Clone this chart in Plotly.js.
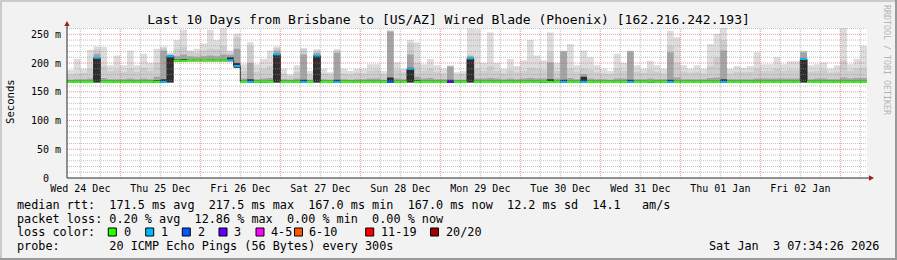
<!DOCTYPE html>
<html><head><meta charset="utf-8">
<script src="https://cdn.plot.ly/plotly-3.0.1.min.js"></script>
<style>html,body{margin:0;padding:0;background:#f2f2f2;}#chart{width:897px;height:260px;}</style>
</head><body><div id="chart"></div>
<script>
// ---- data (2-hour bins starting Wed 24 Dec 08:00) ----
const startTime = '2025-12-24T08:00:00Z';
const binHours = 2;
const med = [
 167,167,167,167,209,167,167,167,
 167,167,167,167,167,167,167,212,204,204,205,205,
 205,205,205,205,205,195,167,167,167,168,167,215,
 167,167,167,167,167,213,167,167,167,167,167,167,
 167,167,167,167,167,167,167,190,167,167,167,167,
 167,167,167,167,208,167,167,167,167,167,167,167,
 167,167,167,168,167,167,167,167,167,167,167,167,
 167,167,167,167,167,167,167,168,167,167,167,167,
 167,167,167,167,167,167,167,167,167,167,167,167,
 167,167,167,167,167,167,207,167,167,167,167,167,
 167,167,167,167];
const loss = [
 0,0,0,0,1,0,0,0,
 0,0,0,0,0,0,1,1,0,0,0,0,
 0,0,0,0,1,1,0,1,0,0,0,1,
 0,0,0,1,0,1,0,0,1,0,0,0,
 0,0,0,0,2,0,0,1,0,0,0,0,
 0,3,0,0,1,0,0,0,0,0,0,0,
 0,0,0,0,0,0,1,0,0,1,0,0,
 0,0,0,0,1,0,0,0,0,0,1,0,
 0,0,0,0,0,0,1,0,0,0,0,0,
 0,0,0,0,0,0,1,0,0,0,0,0,
 0,0,0,0];
const smokeMin = [
 166,166,166,166,166,166,166,166,
 166,166,166,166,166,166,166,166,203,203,203,203,
 203,203,203,203,203,192,166,166,166,166,166,166,
 166,166,166,166,166,166,166,166,166,166,166,166,
 166,166,166,166,166,166,166,166,166,166,166,166,
 166,166,166,166,166,166,166,166,166,166,166,166,
 166,166,166,166,166,166,166,166,166,166,166,166,
 166,166,166,166,166,166,166,166,166,166,166,166,
 166,166,166,166,166,166,166,166,166,166,166,166,
 166,166,166,166,166,166,166,166,166,166,166,166,
 166,166,166,166];
const smokeInner = [
 169,169,169,169,209,169,169,169,
 169,169,169,169,169,170,172,212,206,207,206,206,
 206,207,206,207,210,200,169,172,169,169,169,215,
 169,169,169,171,169,213,169,169,171,169,169,169,
 169,169,169,169,175,169,169,192,170,169,169,169,
 169,171,169,169,208,169,169,169,169,169,169,169,
 169,169,169,169,172,169,171,169,169,176,169,169,
 169,169,169,169,171,169,169,169,169,169,171,169,
 169,169,169,169,169,169,172,169,169,169,169,169,
 169,169,169,169,169,169,207,169,169,169,169,169,
 169,169,169,169];
const smokeMid = [
 171,172,172,173,216,174,172,172,
 172,173,172,173,172,176,222,214,212,215,212,211,
 212,213,212,215,214,225,173,200,172,173,174,222,
 172,171,173,215,171,218,172,171,218,172,171,172,
 172,173,173,171,255,173,172,215,176,173,174,172,
 172,194,171,171,212,173,173,174,173,172,173,172,
 173,174,173,173,201,173,220,174,172,181,173,172,
 172,171,173,173,220,172,172,173,172,172,219,175,
 172,172,172,172,174,175,222,172,172,172,172,173,
 173,173,173,173,173,173,219,172,173,173,172,172,
 175,173,174,174];
const smokeOuter = [
 180,182,183,190,224,195,186,188,
 184,190,185,192,186,200,226,216,225,228,220,218,
 222,225,224,230,218,245,186,230,185,190,195,226,
 182,178,185,224,180,222,182,180,222,182,180,183,
 182,186,188,181,256,188,184,235,200,186,190,185,
 182,195,180,181,215,190,186,195,186,182,188,184,
 186,192,190,188,220,186,221,190,185,190,188,184,
 182,181,190,186,221,185,183,188,185,182,230,200,
 185,183,185,182,195,210,240,182,185,184,185,190,
 186,186,190,186,188,188,220,185,186,188,183,185,
 205,186,190,192];
const smokeMax = [
 188,207,190,223,229,228,196,213,
 196,222,196,216,200,225,229,218,240,258,222,225,
 234,258,240,261,222,251,198,236,198,207,222,229,
 190,180,196,226,186,224,190,184,224,190,186,190,
 190,198,198,186,257,201,190,240,236,198,207,196,
 190,196,184,186,260,259,200,253,200,190,207,195,
 205,240,213,205,253,200,222,233,196,222,210,196,
 190,186,216,200,222,196,190,204,196,190,256,245,
 196,190,196,190,233,251,262,190,195,192,195,219,
 198,198,210,198,203,203,222,196,198,201,190,196,
 262,198,207,230];
const dayLabels = ['Wed 24 Dec','Thu 25 Dec','Fri 26 Dec','Sat 27 Dec','Sun 28 Dec',
  'Mon 29 Dec','Tue 30 Dec','Wed 31 Dec','Thu 01 Jan','Fri 02 Jan'];
const dayNoons = ['2025-12-24 12:00','2025-12-25 12:00','2025-12-26 12:00','2025-12-27 12:00',
  '2025-12-28 12:00','2025-12-29 12:00','2025-12-30 12:00','2025-12-31 12:00',
  '2026-01-01 12:00','2026-01-02 12:00'];
const yTickVals = [0,50,100,150,200,250];
const yTickText = ['0  ','50 m','100 m','150 m','200 m','250 m'];
const lossLabels = ['0','1','2','3','4-5','6-10','11-19','20/20'];
const lossColors = ['#26ff00','#00b8ff','#0059ff','#5e00ff','#ff00ff','#ff5500','#ff0000','#a10000'];
const statsLine = 'median rtt:  171.5 ms avg  217.5 ms max  167.0 ms min  167.0 ms now  12.2 ms sd  14.1   am/s';
const lossLine = 'packet loss: 0.20 % avg  12.86 % max  0.00 % min  0.00 % now';
const probeLine = 'probe:       20 ICMP Echo Pings (56 Bytes) every 300s';
const stampText = 'Sat Jan  3 07:34:26 2026';
const titleText = 'Last 10 Days from Brisbane to [US/AZ] Wired Blade (Phoenix) [162.216.242.193]';

// ---- helpers ----
const H = 3600e3;
const t0 = Date.parse(startTime);
const fmt = ms => new Date(ms).toISOString().slice(0,19).replace('T',' ');
const n = med.length;
const edges = [];
for (let k = 0; k <= n; k++) edges.push(fmt(t0 + k*binHours*H));
const step = a => a.concat([a[a.length-1]]);
const MONO = 'DejaVu Sans Mono';
const L = 67, R = 867, T = 28, B = 178;
const px = x => (x - L) / (R - L);
const py = y => (B - y) / (B - T);
const nb = s => s.replace(/ /g, '\u00a0');
function lossCat(l){ if(l<=3) return l; if(l<=5) return 4; if(l<=10) return 5; if(l<=19) return 6; return 7; }

const traces = [];
function band(top, color){
  traces.push({x: edges, y: step(smokeMin), mode:'lines', line:{width:0, shape:'hv'}, hoverinfo:'skip', showlegend:false});
  traces.push({x: edges, y: step(top), mode:'lines', line:{width:0, shape:'hv'}, fill:'tonexty', fillcolor:color, hoverinfo:'skip', showlegend:false});
}
band(smokeMax, '#dddddd');
band(smokeOuter, '#cdcdcd');
band(smokeMid, '#a4a4a4');
band(smokeInner, '#2e2e2e');
traces.push({x: edges, y: step(med), mode:'lines', line:{width:1, shape:'hv', color:'#222'}, hoverinfo:'skip', showlegend:false});
for (let c = 0; c < lossColors.length; c++){
  const xs = [], ys = [];
  for (let k = 0; k < n; k++){
    if (lossCat(loss[k]) === c){ xs.push(edges[k], edges[k+1], null); ys.push(med[k], med[k], null); }
  }
  if (xs.length) traces.push({x: xs, y: ys, mode:'lines', line:{width:2, color:lossColors[c]}, hoverinfo:'skip', showlegend:false, connectgaps:false});
}

// ---- shapes: grid (on top, like rrdtool), axes, arrows, frame, legend boxes ----
const GRID = 'rgba(140,140,140,0.55)', MGRID = 'rgba(222,79,79,0.6)';
const shapes = [];
for (let v = 10; v <= 260; v += 10){
  shapes.push({type:'line', xref:'paper', yref:'y', x0:0, x1:1, y0:v, y1:v, layer:'above',
    line:{color: v%50===0 ? MGRID : GRID, width:1, dash:'1px,1px'}});
}
for (let t = t0 + 4*H; t < t0 + 240*H; t += 6*H){
  const mid = Math.round(t/H) % 24 === 0;
  shapes.push({type:'line', xref:'x', yref:'paper', x0:fmt(t), x1:fmt(t), y0:0, y1:1, layer:'above',
    line:{color: mid ? MGRID : GRID, width:1, dash:'1px,1px'}});
}
const AX = '#2a2a2a', ARROW = '#a02020';
shapes.push({type:'line', xref:'paper', yref:'paper', x0:0, x1:0, y0:0, y1:py(24), line:{color:AX, width:1}, layer:'above'});
shapes.push({type:'line', xref:'paper', yref:'paper', x0:0, x1:px(869), y0:0, y1:0, line:{color:AX, width:1}, layer:'above'});
shapes.push({type:'path', xref:'paper', yref:'paper', path:`M ${px(67)},${py(21)} L ${px(64.3)},${py(26)} L ${px(69.7)},${py(26)} Z`, fillcolor:ARROW, line:{width:0}, layer:'above'});
shapes.push({type:'path', xref:'paper', yref:'paper', path:`M ${px(874)},${py(178)} L ${px(869)},${py(175.3)} L ${px(869)},${py(180.7)} Z`, fillcolor:ARROW, line:{width:0}, layer:'above'});
// frame
shapes.push({type:'rect', xref:'paper', yref:'paper', x0:px(0), x1:px(897), y0:py(0), y1:py(2), fillcolor:'#cbcbcb', line:{width:0}});
shapes.push({type:'rect', xref:'paper', yref:'paper', x0:px(0), x1:px(2), y0:py(0), y1:py(260), fillcolor:'#cbcbcb', line:{width:0}});
shapes.push({type:'rect', xref:'paper', yref:'paper', x0:px(0), x1:px(897), y0:py(258), y1:py(260), fillcolor:'#999999', line:{width:0}});
shapes.push({type:'rect', xref:'paper', yref:'paper', x0:px(895), x1:px(897), y0:py(0), y1:py(260), fillcolor:'#999999', line:{width:0}});

const boxLeft = [108.3,145.7,182.3,219,256,294.5,365.7,430.5];
const labelLeft = [122.7,160,196.7,233.3,270,308,380,445];
const annotations = [];
for (let i = 0; i < lossLabels.length; i++){
  shapes.push({type:'rect', xref:'paper', yref:'paper', x0:px(boxLeft[i]), x1:px(boxLeft[i]+8), y0:py(236), y1:py(228),
    fillcolor:lossColors[i], line:{color:'#000', width:1}});
  annotations.push({xref:'paper', yref:'paper', x:px(labelLeft[i]-1), y:py(232), xanchor:'left', yanchor:'middle',
    text:nb(lossLabels[i]), showarrow:false, font:{family:MONO, size:11.8, color:'#000'}});
}
const textLine = (s, x, y, anchor) => annotations.push({xref:'paper', yref:'paper', x:px(x), y:py(y), xanchor:anchor||'left', yanchor:'middle',
  text:nb(s), showarrow:false, font:{family:MONO, size:11.8, color:'#000'}});
textLine(statsLine, 15, 204.5);
textLine(lossLine, 15, 218.5);
textLine('loss color:', 15, 232);
textLine(probeLine, 15, 245.5);
textLine(stampText, 881, 245.5, 'right');
annotations.push({xref:'paper', yref:'paper', x:px(10), y:py(102), xanchor:'center', yanchor:'middle', textangle:-90,
  text:'Seconds', showarrow:false, font:{family:MONO, size:10.6, color:'#000'}});
annotations.push({xref:'paper', yref:'paper', x:px(887), y:py(60), xanchor:'center', yanchor:'middle', textangle:90,
  text:nb('RRDTOOL / TOBI OETIKER'), showarrow:false, font:{family:MONO, size:8.3, color:'#b4b4b4'}});

const layout = {
  width:897, height:260,
  margin:{l:L, r:897-R, t:T, b:260-B, pad:0},
  paper_bgcolor:'#f2f2f2', plot_bgcolor:'#ffffff',
  font:{family:MONO, color:'#000'},
  showlegend:false,
  title:{text:titleText, x:0.5, xref:'container', xanchor:'center', y:1-19/260, yref:'container', yanchor:'middle',
    font:{family:MONO, size:13, color:'#000'}},
  xaxis:{type:'date', range:[fmt(t0), fmt(t0+240*H)], tickmode:'array', tickvals:dayNoons, ticktext:dayLabels,
    showgrid:false, zeroline:false, showline:false, ticks:'', ticklabelstandoff:3, tickfont:{family:MONO, size:10, color:'#000'}, fixedrange:true},
  yaxis:{range:[0,261], tickmode:'array', tickvals:yTickVals, ticktext:yTickText.map(nb), showgrid:false, zeroline:false,
    showline:false, ticks:'', ticklabelstandoff:5, tickfont:{family:MONO, size:10, color:'#000'}, fixedrange:true},
  shapes:shapes, annotations:annotations
};
Plotly.newPlot('chart', traces, layout, {staticPlot:true, displayModeBar:false});
</script></body></html>
